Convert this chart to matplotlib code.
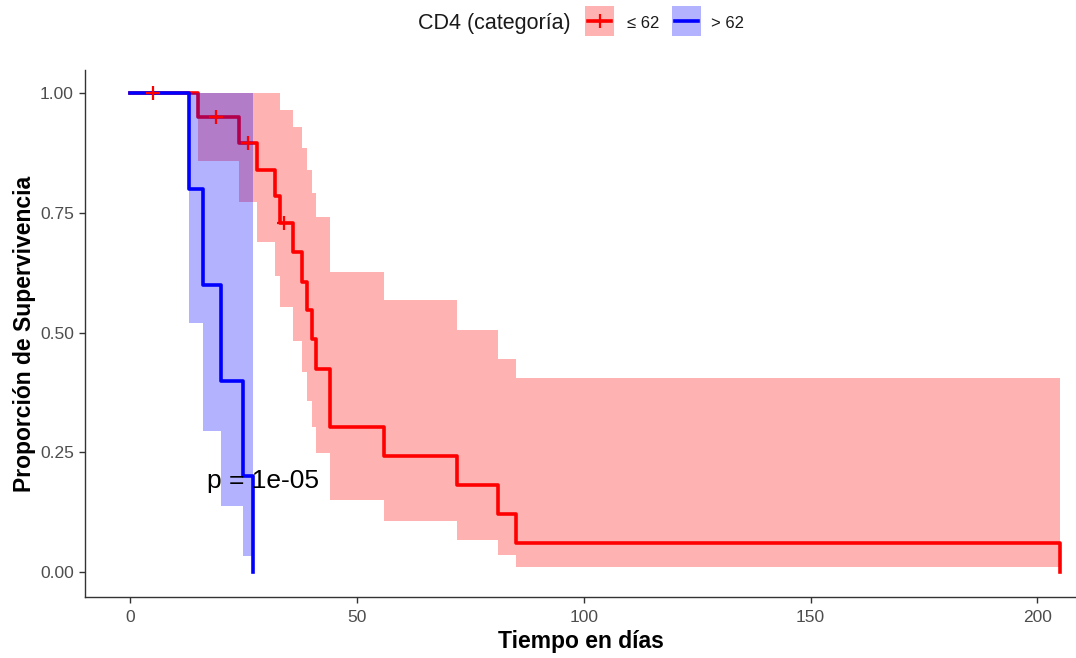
import numpy as np
import matplotlib
matplotlib.use("Agg")
import matplotlib.pyplot as plt
from matplotlib.patches import Rectangle
from matplotlib.lines import Line2D

plt.rcParams['font.family'] = ['Liberation Sans', 'DejaVu Sans']

# ---- data ----
red_time = [0, 15, 24, 28, 32, 33, 36, 38, 39, 40, 41, 44, 56, 72, 81, 85, 205]
red_surv = [1.0, 0.95, 0.897, 0.841, 0.785, 0.729, 0.668, 0.607, 0.547, 0.486,
            0.425, 0.304, 0.243, 0.182, 0.121, 0.061, 0.0]
red_ci_time = [15, 24, 28, 32, 33, 36, 38, 39, 40, 41, 44, 56, 72, 81, 85, 205]
red_upper = [1.0, 1.0, 1.0, 1.0, 0.966, 0.929, 0.887, 0.841, 0.793, 0.741,
             0.627, 0.568, 0.506, 0.445, 0.405, 0.405]
red_lower = [0.859, 0.773, 0.689, 0.618, 0.554, 0.483, 0.418, 0.357, 0.303, 0.249,
             0.150, 0.107, 0.067, 0.036, 0.010, 0.010]
red_censor = [5, 19, 26, 34]

blue_time = [0, 13, 16, 20, 25, 27]
blue_surv = [1.0, 0.8, 0.6, 0.4, 0.2, 0.0]
blue_ci_time = [13, 16, 20, 25, 27]
blue_upper = [1.0, 1.0, 1.0, 1.0, 1.0]
blue_lower = [0.52, 0.295, 0.138, 0.033, 0.033]

x_ticks = [0, 50, 100, 150, 200]
y_ticks = [0.0, 0.25, 0.5, 0.75, 1.0]
y_ticklabels = ["0.00", "0.25", "0.50", "0.75", "1.00"]
legend_title = "CD4 (categoría)"
legend_labels = ["≤ 62", "> 62"]
pval_text = "p = 1e-05"

RED = "#FF0000"
BLUE = "#0000FF"
LW = 2.6

W, H = 1076, 658
fig = plt.figure(figsize=(W / 100, H / 100), dpi=100)
ax = fig.add_axes([85 / W, 1 - 597 / H, (W - 85) / W, (597 - 70) / H])

# survival curves (drawn first, bands on top as in ggsurvplot)
ax.step(red_time, red_surv, where='post', color=RED, linewidth=LW, zorder=2)
ax.step(blue_time, blue_surv, where='post', color=BLUE, linewidth=LW, zorder=2.1)

# confidence bands
ax.fill_between(red_ci_time, red_lower, red_upper, step='post', color=RED,
                alpha=0.3, linewidth=0, zorder=3)
ax.fill_between(blue_ci_time, blue_lower, blue_upper, step='post', color=BLUE,
                alpha=0.3, linewidth=0, zorder=3.1)

# censor marks
rt = np.array(red_time)
rs = np.array(red_surv)
idx = np.searchsorted(rt, red_censor, side='right') - 1
ax.plot(red_censor, rs[idx], linestyle='none', marker='+', markersize=10,
        markeredgewidth=1.6, color=RED, zorder=4)

# p-value
ax.text(17, 0.19, pval_text, fontsize=19, ha='left', va='center', color='black',
        zorder=5)

ax.set_xlim(-9.93, 208.5)
ax.set_ylim(-0.052, 1.049)
ax.set_xticks(x_ticks)
ax.set_yticks(y_ticks)
ax.set_yticklabels(y_ticklabels)
for s in ['top', 'right']:
    ax.spines[s].set_visible(False)
for s in ['left', 'bottom']:
    ax.spines[s].set_color('#333333')
    ax.spines[s].set_linewidth(1.0)
ax.tick_params(axis='both', colors='#333333', length=4, width=1.0,
               labelsize=12.5, labelcolor='#4D4D4D')
ax.tick_params(axis='x', pad=5)
ax.tick_params(axis='y', pad=4)

ax.set_xlabel("Tiempo en días", fontsize=16.5, fontweight='bold', labelpad=4)
ax.set_ylabel("Proporción de Supervivencia", fontsize=16.5, fontweight='bold',
              labelpad=3)

# legend (manual, on top)
def fx(px):
    return px / W

def fy(py):
    return 1 - py / H

fig.text(fx(418), fy(23), legend_title, fontsize=15.5, ha='left', va='center',
         color='#1A1A1A')
keys = [(585, RED, True, 627), (672, BLUE, False, 711)]
for (kx, col, plus, lx), lab in zip(keys, legend_labels):
    fig.add_artist(Rectangle((fx(kx), fy(36)), fx(29), 30 / H, transform=fig.transFigure,
                             facecolor=col, alpha=0.3, edgecolor='none'))
    fig.add_artist(Line2D([fx(kx + 3), fx(kx + 26)], [fy(21), fy(21)],
                          transform=fig.transFigure, color=col, linewidth=LW))
    if plus:
        fig.add_artist(Line2D([fx(kx + 14.5)], [fy(21)], transform=fig.transFigure,
                              marker='+', markersize=10, markeredgewidth=1.6,
                              color=col, linestyle='none'))
    fig.text(fx(lx), fy(23), lab, fontsize=12, ha='left', va='center', color='#1A1A1A')

fig.savefig("out.png", dpi=100)
